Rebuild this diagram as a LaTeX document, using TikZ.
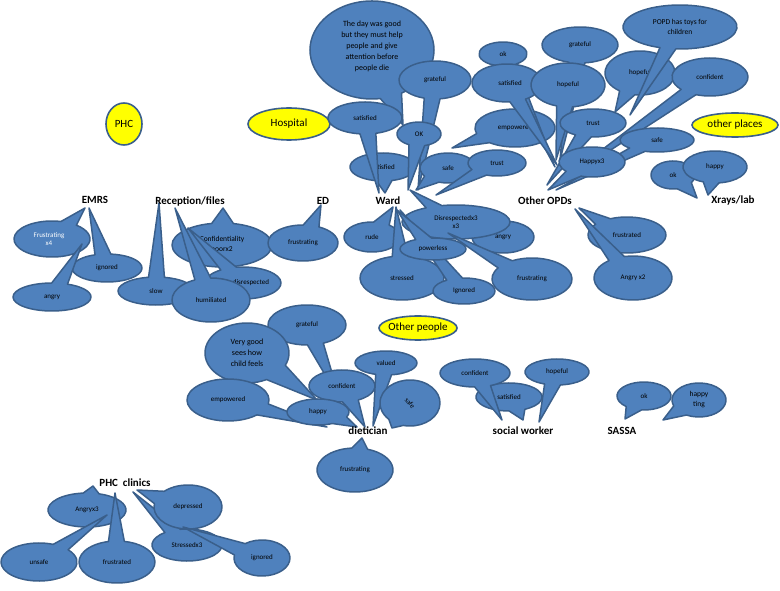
\documentclass[tikz,border=0pt]{standalone}
\usepackage{fontspec}
\setmainfont{Carlito}
\definecolor{bfill}{HTML}{4F81BD}
\definecolor{bline}{HTML}{3A5F8B}
\definecolor{ylw}{HTML}{FFFF00}
\tikzset{
  bubble/.style={fill=bfill,draw=bline,line width=1.5pt,line join=round},
  btext/.style={font=\fontsize{7}{8.5}\selectfont,align=center,text=black,inner sep=0pt},
  bigtext/.style={font=\fontsize{8}{11}\selectfont},
  midtext/.style={font=\fontsize{7.5}{10}\selectfont},
  catlabel/.style={font=\fontsize{11}{13}\selectfont\bfseries,inner sep=0pt},
  placeshape/.style={fill=ylw,draw=bline,line width=1.6pt},
  placetext/.style={font=\fontsize{11}{13}\selectfont,inner sep=0pt}
}
\def\bw{8}
% \bub{name}{cx}{cy}{rx}{ry}{tipx}{tipy}{node opts}{text}  (pixel coords, y down)
\newcommand\bub[9]{%
  \pgfmathsetmacro\bcx{#2}\pgfmathsetmacro\bcy{590-#3}%
  \pgfmathsetmacro\btx{#6}\pgfmathsetmacro\bty{590-#7}%
  \pgfmathsetmacro\bt{atan2((\bty-\bcy)/#5,(\btx-\bcx)/#4)}%
  \pgfmathsetmacro\bdl{min(40,deg(\bw/sqrt((#4*sin(\bt))^2+(#5*cos(\bt))^2)))}%
  \pgfmathsetmacro\bsa{\bt+\bdl}\pgfmathsetmacro\bea{\bt-\bdl+360}%
  \pgfmathsetmacro\bsx{\bcx+#4*cos(\bsa)}\pgfmathsetmacro\bsy{\bcy+#5*sin(\bsa)}%
  \coordinate (#1-tip) at (\btx,\bty);
  \path[bubble] (#1-tip) -- (\bsx,\bsy) arc[start angle=\bsa,end angle=\bea,x radius=#4,y radius=#5] -- cycle;
  \node[btext,#8] (#1) at (\bcx,\bcy) {#9};
}
\newcommand\place[6]{%
  \path[placeshape] (#2,590-#3) ellipse[x radius=#4,y radius=#5];
  \node[placetext] (#1) at (#2,590-#3) {#6};
}
\newcommand\cat[4]{\node[catlabel] (#1) at (#2,590-#3) {#4};}
\begin{document}
\begin{tikzpicture}[x=1pt,y=1pt]
\useasboundingbox (0,0) rectangle (780,590);
% yellow places
\place{phc}{124}{124}{18}{21}{PHC}
\place{hosp}{289}{124}{41}{16}{Hospital}
\place{oplaces}{735}{125}{43}{12}{other places}
\place{opeople}{418}{328}{39}{12}{Other people}
% EMRS
\bub{e1}{52}{239}{38}{18}{85}{208}{text=white,xshift=-3}{Frustrating\\x4}
\bub{e2}{107}{268}{35}{14}{89}{208}{}{ignored}
\bub{e3}{52}{297}{39}{14}{82}{244}{}{angry}
% Reception/files
\bub{r1}{156}{291}{38}{14}{159}{203}{}{slow}
\def\bw{11}
\bub{r2}{222}{245}{50}{22}{223}{208}{midtext}{Confidentiality\\poorx2}
\def\bw{8}
\bub{r3}{243}{283}{38}{16}{188}{228}{xshift=8}{disrespected}
\bub{r4}{211}{300}{39}{22}{175}{208}{}{humiliated}
% ED
\bub{d1}{303}{243}{35}{18}{321}{205}{}{frustrating}
% Ward
\bub{w1}{383}{167}{33}{14}{385}{193}{}{satisfied}
\def\bw{11}
\bub{w2}{372}{50}{62}{49}{403}{125}{bigtext,yshift=4}{The day was good\\but they must help\\people and give\\attention before\\people die}
\def\bw{8}
\bub{w3}{435}{80}{36}{19}{418}{190}{}{grateful}
\bub{w4}{365}{118}{37}{16}{379}{193}{}{satisfied}
\bub{w5}{419}{134}{22}{12}{408}{190}{}{OK}
\bub{w6}{448}{168}{28}{15}{416}{190}{}{safe}
\bub{w7}{497}{163}{29}{13}{436}{195}{}{trust}
\bub{w8}{372}{237}{28}{15}{393}{207}{}{rude}
\bub{w9}{503}{237}{31}{16}{430}{222}{}{angry}
\bub{w11}{456}{222}{54}{17}{410}{190}{}{Disrespectedx3\\x3}
\bub{w12}{402}{278}{42}{22}{396}{207}{}{stressed}
\bub{w13}{464}{291}{31}{13}{400}{210}{}{Ignored}
\bub{w10}{433}{249}{33}{11}{397}{210}{}{powerless}
\bub{w14}{532}{279}{40}{21}{448}{233}{}{frustrating}
% Other OPDs
\bub{o1}{580}{45}{38}{18}{560}{160}{}{grateful}
\bub{o2}{515}{128}{40}{19}{452}{148}{}{empowered}
\bub{o3}{503}{54}{24}{12}{555}{167}{}{ok}
\bub{o4}{507}{83}{35}{19}{557}{165}{xshift=3}{satisfied}
\bub{o5}{568}{85}{37}{22}{556}{160}{}{hopeful}
\bub{o6}{640}{73}{35}{22}{615}{112}{}{hopeful}
\bub{o7}{680}{27}{57}{22}{630}{115}{midtext}{POPD has toys for\\children}
\bub{o8}{710}{77}{38}{19}{552}{188}{}{confident}
\bub{o9}{593}{123}{33}{14}{547}{185}{}{trust}
\bub{o10}{657}{140}{37}{12}{556}{190}{}{safe}
\bub{o11}{592}{162}{33}{15}{548}{190}{}{Happyx3}
\bub{o12}{627}{235}{39}{18}{579}{208}{}{frustrated}
\bub{o13}{633}{278}{39}{22}{575}{209}{}{Angry x2}
% Xrays/lab
\bub{x1}{673}{175}{22}{14}{697}{198}{}{ok}
\bub{x2}{715}{167}{32}{16}{708}{195}{}{happy}
% dietician
\bub{t1}{307}{325}{39}{20}{340}{400}{}{grateful}
\def\bw{12}
\bub{t2}{247}{353}{42}{30}{317}{400}{bigtext}{Very good\\sees how\\child feels}
\def\bw{8}
\bub{t3}{228}{400}{41}{21}{327}{427}{}{empowered}
\bub{t4}{342}{386}{33}{16}{365}{427}{}{confident}
\bub{t5}{386}{363}{31}{12}{373}{426}{}{valued}
\bub{t6}{318}{412}{31}{13}{357}{427}{}{happy}
\bub{t7}{410}{403}{30}{23}{392}{428}{rotate=-50}{safe}
\bub{t8}{355}{470}{38}{22}{362}{438}{}{frustrating}
% social worker
\bub{s1}{509}{397}{33}{14}{523}{420}{}{satisfied}
\bub{s2}{475}{373}{35}{14}{502}{420}{}{confident}
\bub{s3}{557}{372}{32}{13}{539}{422}{}{hopeful}
% SASSA
\bub{a1}{644}{396}{27}{14}{625}{419}{}{ok}
\bub{a2}{699}{400}{27}{17}{663}{420}{midtext}{happy\\ting}
% PHC clinics
\bub{p1}{87}{510}{39}{17}{93}{486}{}{Angryx3}
\bub{p2}{39}{562}{38}{19}{107}{515}{}{unsafe}
\bub{p3}{117}{562}{38}{21}{115}{493}{}{frustrated}
\bub{p4}{187}{545}{35}{16}{133}{492}{}{Stressedx3}
\bub{p5}{188}{507}{34}{22}{137}{490}{}{depressed}
\bub{p6}{262}{558}{28}{18}{183}{527}{}{ignored}
% category labels
\cat{emrs}{95}{200}{EMRS}
\cat{recep}{190}{201}{Reception/files}
\cat{ed}{323}{201}{ED}
\cat{ward}{388}{201}{Ward}
\cat{opds}{545}{201}{Other OPDs}
\cat{xrays}{733}{201}{Xrays/lab}
\cat{diet}{368}{431}{dietician}
\cat{sw}{523}{431}{social worker}
\cat{sassa}{622}{431}{SASSA}
\cat{phcc}{125}{483}{PHC\ \ clinics}
\end{tikzpicture}
\end{document}
